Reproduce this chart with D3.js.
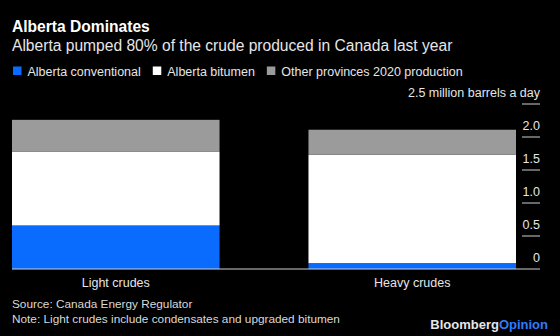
<!DOCTYPE html>
<html>
<head>
<meta charset="utf-8">
<script src="https://cdn.jsdelivr.net/npm/d3@7"></script>
<style>
  html, body { margin: 0; padding: 0; background: #000; }
  svg { display: block; }
  text { font-family: "Liberation Sans", Arial, Helvetica, sans-serif; }
</style>
</head>
<body>
<svg id="chart" width="560" height="336"></svg>
<script>
// Crude production by type, million barrels a day
const categories = ["Light crudes", "Heavy crudes"];
const seriesNames = ["Alberta conventional", "Alberta bitumen", "Other provinces 2020 production"];
const albertaConventional = [0.66, 0.09];
const albertaBitumen = [1.12, 1.64];
const otherProvinces = [0.48, 0.38];
const yTicks = [0, 0.5, 1.0, 1.5, 2.0, 2.5];
const yTickLabels = ["0", "0.5", "1.0", "1.5", "2.0", "2.5 million barrels a day"];

const colors = ["#0a6cff", "#ffffff", "#9b9b9b"];

const rows = categories.map((c, i) => ({
  category: c,
  [seriesNames[0]]: albertaConventional[i],
  [seriesNames[1]]: albertaBitumen[i],
  [seriesNames[2]]: otherProvinces[i]
}));

const svg = d3.select("#chart");
svg.append("rect").attr("width", 560).attr("height", 336).attr("fill", "#000");

// Heading
svg.append("text").attr("x", 12).attr("y", 32)
  .attr("fill", "#fff").attr("font-size", 15.6).attr("font-weight", "bold")
  .text("Alberta Dominates");
svg.append("text").attr("x", 12).attr("y", 50.5)
  .attr("fill", "#e6e6e6").attr("font-size", 15.6)
  .text("Alberta pumped 80% of the crude produced in Canada last year");

// Legend
const legend = svg.append("g");
let lx = 13;
seriesNames.forEach((name, i) => {
  legend.append("rect").attr("x", lx).attr("y", 66.5).attr("width", 8.5).attr("height", 8.5)
    .attr("fill", colors[i]);
  const t = legend.append("text").attr("x", lx + 14.5).attr("y", 75.5)
    .attr("fill", "#e6e6e6").attr("font-size", 12.5).text(name);
  lx += 14.5 + t.node().getComputedTextLength() + 12;
});

// Scales
const x = d3.scaleBand().domain(categories).range([12, 516]).paddingInner(0.3).paddingOuter(0);
const y = d3.scaleLinear().domain([0, 2.5]).range([269, 104]);

const stack = d3.stack().keys(seriesNames)(rows);

svg.append("g").selectAll("g").data(stack).join("g")
  .attr("fill", (d, i) => colors[i])
  .selectAll("rect").data(d => d).join("rect")
  .attr("x", d => x(d.data.category))
  .attr("width", x.bandwidth())
  .attr("y", d => y(d[1]))
  .attr("height", d => y(d[0]) - y(d[1]));

// Right-hand value axis: short tick rules with labels sitting above them
const axis = svg.append("g");
yTicks.forEach((v, i) => {
  if (v > 0) {
    axis.append("line").attr("x1", 522).attr("x2", 540)
      .attr("y1", y(v)).attr("y2", y(v))
      .attr("stroke", "#cfcfcf").attr("stroke-width", 1);
  }
  axis.append("text").attr("x", 540).attr("y", y(v) - 7.5)
    .attr("text-anchor", "end").attr("fill", "#e6e6e6").attr("font-size", 12.5)
    .text(yTickLabels[i]);
});

// Zero baseline
svg.append("line").attr("x1", 12).attr("x2", 540)
  .attr("y1", y(0)).attr("y2", y(0))
  .attr("stroke", "#cfcfcf").attr("stroke-width", 1);

// Category labels
svg.append("g").selectAll("text").data(categories).join("text")
  .attr("x", d => x(d) + x.bandwidth() / 2).attr("y", 286.5)
  .attr("text-anchor", "middle").attr("fill", "#e6e6e6").attr("font-size", 12.5)
  .text(d => d);

// Footer
svg.append("text").attr("x", 12).attr("y", 308)
  .attr("fill", "#d9d9d9").attr("font-size", 11.8)
  .text("Source: Canada Energy Regulator");
svg.append("text").attr("x", 12).attr("y", 322.5)
  .attr("fill", "#d9d9d9").attr("font-size", 11.8)
  .text("Note: Light crudes include condensates and upgraded bitumen");

const logo = svg.append("text").attr("x", 548).attr("y", 329)
  .attr("text-anchor", "end").attr("font-size", 13).attr("font-weight", "bold");
logo.append("tspan").attr("fill", "#e6e6e6").text("Bloomberg");
logo.append("tspan").attr("fill", "#2f7bff").text("Opinion");
</script>
</body>
</html>
